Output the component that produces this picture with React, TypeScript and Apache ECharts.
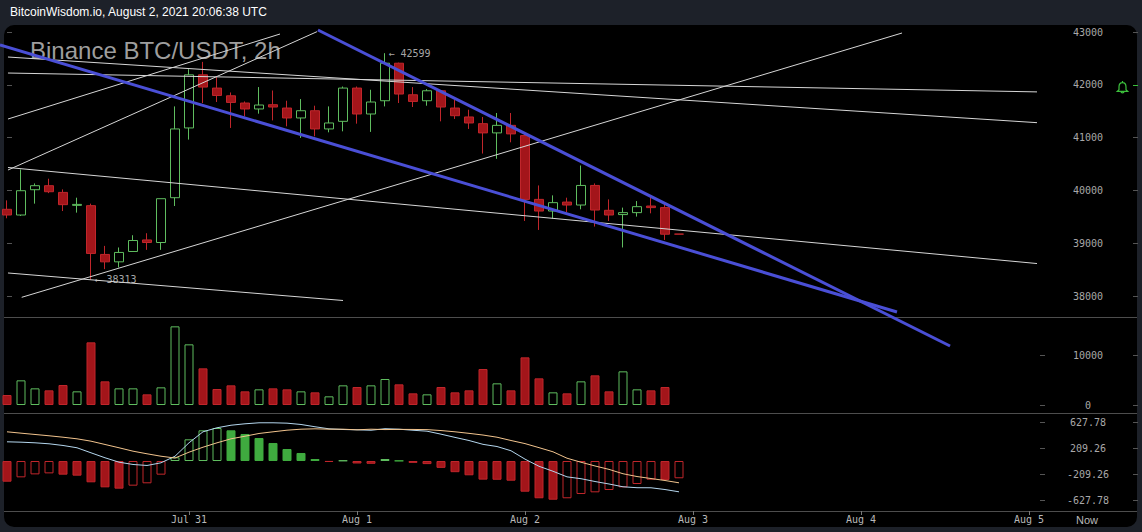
import React, { useEffect, useRef } from 'react';
import * as echarts from 'echarts';

// ---------- data ----------
const open = [39642, 39534, 40013, 40089, 39962, 39717, 39711, 38787, 38647, 38843, 39062, 39013, 39862, 41183, 42189, 41938, 41792, 41655, 41542, 41623, 41560, 41372, 41509, 41164, 41308, 41938, 41447, 41698, 42409, 41811, 41698, 41887, 41560, 41391, 41264, 41089, 41232, 41038, 39830, 39609, 39779, 39723, 40094, 39623, 39542, 39579, 39704, 39674, 39172];
const close = [39534, 39994, 40089, 39975, 39730, 39735, 38806, 38647, 38825, 39051, 39013, 39843, 41164, 42189, 41957, 41798, 41666, 41542, 41617, 41579, 41372, 41509, 41164, 41277, 41938, 41447, 41674, 42409, 41825, 41685, 41887, 41579, 41415, 41277, 41089, 41232, 41070, 39830, 39609, 39768, 39723, 40094, 39628, 39534, 39579, 39692, 39674, 39170, 39172];
const low = [39472, 39515, 39749, 39949, 39609, 39579, 38313, 38509, 38542, 38843, 38874, 38874, 39704, 40962, 41655, 41674, 41183, 41402, 41453, 41326, 41213, 40994, 41025, 41100, 41119, 41264, 41108, 41591, 41655, 41579, 41604, 41308, 41353, 41164, 40698, 40598, 40911, 39421, 39251, 39466, 39591, 39642, 39315, 39421, 38919, 39504, 39566, 39062, 39172];
const high = [39811, 40396, 40132, 40221, 40019, 39862, 39749, 38949, 38919, 39151, 39189, 39843, 41591, 42296, 42434, 42145, 41855, 41685, 41957, 41892, 41698, 41730, 41604, 41591, 41968, 41968, 41906, 42599, 42420, 41957, 41919, 41900, 41717, 41528, 41391, 41466, 41466, 41060, 40094, 39906, 39862, 40472, 40132, 39830, 39674, 39798, 39881, 39768, 39172];
const volume = [2000, 4930, 3330, 2930, 4000, 2730, 12530, 4730, 3330, 3330, 2130, 3530, 15730, 12130, 7330, 3200, 3930, 2730, 3130, 3330, 3130, 2730, 2530, 1730, 3930, 3600, 3930, 5200, 4130, 2330, 2130, 3600, 2530, 2930, 7200, 4330, 2930, 9530, 5330, 2530, 2330, 4730, 5930, 2730, 6730, 3130, 2930, 3600, null];
const macdHist = [-333, -263, -215, -199, -220, -236, -343, -424, -445, -397, -359, -220, 60, 349, 494, 531, 494, 435, 370, 290, 193, 129, 32, -15, 8, -40, -45, 32, 5, -30, -50, -110, -180, -230, -300, -302, -317, -494, -600, -623, -600, -531, -504, -467, -424, -370, -301, -305, -278];
const macdDif = [309, 303, 293, 277, 250, 213, 132, 52, -19, -56, -72, -29, 77, 293, 470, 535, 576, 599, 615, 615, 609, 588, 551, 518, 507, 502, 495, 520, 512, 495, 480, 432, 380, 330, 268, 233, 165, 30, -85, -165, -255, -285, -330, -370, -415, -430, -431, -459, -496];
const macdDea = [470, 448, 427, 406, 383, 357, 319, 266, 213, 158, 116, 77, 48, 142, 222, 293, 357, 399, 443, 470, 496, 512, 518, 512, 512, 502, 512, 506, 509, 508, 505, 490, 470, 445, 418, 383, 330, 280, 215, 148, 45, -20, -80, -135, -205, -250, -282, -314, -351];

const priceTicks = [38000, 39000, 40000, 41000, 42000, 43000];
const volumeTicks = [0, 10000];
const macdTicks = [-627.78, -209.26, 209.26, 627.78];

// trend-line drawings, as [candle index, price] pairs
const blueLines = [
  [[22.21, 43038], [67.36, 37053]],
  [[-0.5, 42754], [63.57, 37697]],
];
const whiteLines = [
  [[0.07, 42526], [73.93, 41277]],
  [[0.07, 42223], [73.93, 41864]],
  [[0.07, 40434], [73.93, 38606]],
  [[0.07, 38436], [24.0, 37915]],
  [[1.05, 37975], [63.93, 42981]],
  [[0.07, 41352], [19.5, 42962]],
  [[0.07, 40386], [22.14, 43006]],
];

// 2h slots from Jul 29 22:00 UTC up to Aug 5
const SLOTS = 74;
const START = Date.UTC(2021, 6, 29, 22);
const MONTHS = ['Jan', 'Feb', 'Mar', 'Apr', 'May', 'Jun', 'Jul', 'Aug', 'Sep', 'Oct', 'Nov', 'Dec'];
const categories = Array.from({ length: SLOTS }, (_, i) => {
  const d = new Date(START + i * 7200000);
  return d.getUTCHours() === 0
    ? `${MONTHS[d.getUTCMonth()]} ${d.getUTCDate()}`
    : `${String(d.getUTCHours()).padStart(2, '0')}:00`;
});

// ---------- styles ----------
const GREEN = '#5fbd5f';
const GREEN_FILL = '#3fab3f';
const RED_FILL = '#a3151a';
const RED_BORDER = '#c0262b';
const MONO = '"DejaVu Sans Mono", monospace';
const SANS = '"Liberation Sans", Arial, sans-serif';

echarts.graphic.registerShape(
  'bell',
  echarts.graphic.extendPath(
    'M5.5 0 L5.5 1.6 M5.5 1.6 C3 1.6 2 3.6 2 6 L2 8.8 L0.3 10.4 L10.7 10.4 L9 8.8 L9 6 C9 3.6 8 1.6 5.5 1.6 Z M4 10.6 C4 12.3 7 12.3 7 10.6',
    {}
  )
);

function buildOption() {
  const candleData = open.map((o, i) => [o, close[i], low[i], high[i]]);
  const volData = volume.map((v, i) => {
    if (v == null) return '-';
    const up = close[i] >= open[i];
    return {
      value: v,
      itemStyle: up
        ? { color: '#000', borderColor: GREEN, borderWidth: 1 }
        : { color: RED_FILL, borderColor: RED_BORDER, borderWidth: 1 },
    };
  });
  const histData = macdHist.map((v, i) => {
    const rising = i > 0 && v > macdHist[i - 1];
    const pos = v >= 0;
    let st;
    if (pos) st = rising ? { color: '#000', borderColor: GREEN, borderWidth: 1 } : { color: GREEN_FILL, borderColor: GREEN_FILL, borderWidth: 1 };
    else st = rising ? { color: '#000', borderColor: RED_BORDER, borderWidth: 1 } : { color: RED_FILL, borderColor: RED_BORDER, borderWidth: 1 };
    return { value: v, itemStyle: st };
  });

  let hiIdx = 0;
  let loIdx = 0;
  high.forEach((h, i) => { if (h > high[hiIdx]) hiIdx = i; });
  low.forEach((l, i) => { if (l < low[loIdx]) loIdx = i; });

  // day labels only, skipping the partial first day at the left edge
  const isDay = (idx: number, val: string) => idx >= 6 && !String(val).includes(':');

  const mainY = (grid: number, min: number, max: number, ticks: number[], fmt?: (v: number) => string) => ({
    type: 'value',
    gridIndex: grid,
    position: 'right',
    offset: 4,
    min,
    max,
    axisLine: { show: false },
    splitLine: { show: false },
    axisTick: { show: true, length: 5, customValues: ticks, lineStyle: { color: '#555' } },
    axisLabel: {
      show: true,
      customValues: ticks,
      align: 'center',
      margin: 48,
      color: '#a8a8a8',
      fontFamily: MONO,
      fontSize: 10,
      formatter: fmt || ((v: number) => String(v)),
    },
  });
  const sideY = (grid: number, min: number, max: number, ticks: number[]) => ({
    type: 'value',
    gridIndex: grid,
    position: 'left',
    offset: -1138,
    min,
    max,
    axisLine: { show: false },
    splitLine: { show: false },
    axisTick: { show: true, length: 5, customValues: ticks, lineStyle: { color: '#555' } },
    axisLabel: { show: false },
  });

  const lineSeries = (pts: number[][], color: string, width: number) => ({
    type: 'line',
    xAxisIndex: 3,
    yAxisIndex: 0,
    data: pts,
    symbol: 'none',
    showSymbol: false,
    clip: false,
    silent: true,
    z: 6,
    lineStyle: { color, width },
  });

  return {
    animation: false,
    backgroundColor: '#1d2129',
    title: [
      {
        text: 'BitcoinWisdom.io, August 2, 2021 20:06:38 UTC',
        left: 10,
        top: 6,
        padding: 0,
        textStyle: { color: '#ffffff', fontSize: 12, fontWeight: 'normal', fontFamily: SANS },
      },
      {
        text: 'Binance BTC/USDT, 2h',
        left: 30,
        top: 38,
        padding: 0,
        z: 1,
        textStyle: { color: '#9e9e9e', fontSize: 24, fontWeight: 'normal', fontFamily: SANS },
      },
    ],
    graphic: [
      { type: 'rect', z: -10, shape: { x: 4, y: 25, width: 1133, height: 502, r: 10 }, style: { fill: '#000' } },
      { type: 'line', z: 0, shape: { x1: 4, y1: 317.5, x2: 1137, y2: 317.5 }, style: { stroke: '#4d4d4d', lineWidth: 1 } },
      { type: 'line', z: 0, shape: { x1: 4, y1: 413.5, x2: 1137, y2: 413.5 }, style: { stroke: '#4d4d4d', lineWidth: 1 } },
      { type: 'line', z: 0, shape: { x1: 4, y1: 511.5, x2: 1137, y2: 511.5 }, style: { stroke: '#4d4d4d', lineWidth: 1 } },
      { type: 'bell', z: 1, x: 1117, y: 81, style: { stroke: '#3cbf3c', fill: 'none', lineWidth: 1.2 } },
      { type: 'line', z: 1, shape: { x1: 1133, y1: 85.5, x2: 1138, y2: 85.5 }, style: { stroke: '#3cbf3c', lineWidth: 1 } },
      {
        type: 'text',
        z: 1,
        x: 1087,
        y: 520,
        style: { text: 'Now', fill: '#b8b8b8', fontSize: 11, fontFamily: SANS, align: 'center', verticalAlign: 'middle' },
      },
    ],
    grid: [
      { left: 0, top: 25, width: 1036, height: 292 },
      { left: 0, top: 318, width: 1036, height: 96 },
      { left: 0, top: 414, width: 1036, height: 97 },
    ],
    xAxis: [
      { type: 'category', gridIndex: 0, data: categories, show: false },
      { type: 'category', gridIndex: 1, data: categories, show: false },
      {
        type: 'category',
        gridIndex: 2,
        data: categories,
        position: 'bottom',
        axisLine: { show: false, onZero: false },
        axisTick: { show: true, alignWithLabel: true, interval: isDay, length: 4, lineStyle: { color: '#777' } },
        axisLabel: { interval: isDay, color: '#b8b8b8', fontFamily: MONO, fontSize: 10, margin: 3 },
        splitLine: { show: false },
      },
      { type: 'value', gridIndex: 0, min: -0.5, max: SLOTS - 0.5, show: false, position: 'top' },
    ],
    yAxis: [
      mainY(0, 37602.3, 43132.6, priceTicks),
      sideY(0, 37602.3, 43132.6, priceTicks),
      mainY(1, -1800, 17400, volumeTicks),
      sideY(1, -1800, 17400, volumeTicks),
      mainY(2, -804.8, 756.6, macdTicks, (v: number) => v.toFixed(2)),
      sideY(2, -804.8, 756.6, macdTicks),
    ],
    series: [
      {
        type: 'candlestick',
        xAxisIndex: 0,
        yAxisIndex: 0,
        data: candleData,
        barWidth: 9,
        z: 3,
        itemStyle: {
          color: '#000',
          color0: RED_FILL,
          borderColor: GREEN,
          borderColor0: RED_BORDER,
          borderColorDoji: RED_BORDER,
          borderWidth: 1,
        },
      },
      {
        type: 'bar',
        xAxisIndex: 1,
        yAxisIndex: 2,
        data: volData,
        barWidth: 9,
        z: 3,
      },
      {
        type: 'bar',
        xAxisIndex: 2,
        yAxisIndex: 4,
        data: histData,
        barWidth: 9,
        z: 3,
      },
      {
        type: 'line',
        xAxisIndex: 2,
        yAxisIndex: 4,
        data: macdDif,
        symbol: 'none',
        z: 4,
        lineStyle: { color: '#b4d6ee', width: 1 },
      },
      {
        type: 'line',
        xAxisIndex: 2,
        yAxisIndex: 4,
        data: macdDea,
        symbol: 'none',
        z: 4,
        lineStyle: { color: '#f2c48e', width: 1 },
      },
      ...whiteLines.map((l) => lineSeries(l, '#d6d6d6', 1)),
      ...blueLines.map((l) => lineSeries(l, '#4a4fd6', 3)),
      {
        type: 'scatter',
        xAxisIndex: 0,
        yAxisIndex: 0,
        symbolSize: 1,
        z: 7,
        itemStyle: { color: 'rgba(0,0,0,0)' },
        data: [
          { value: [hiIdx, high[hiIdx]], label: { formatter: `← ${high[hiIdx]}` } },
          { value: [loIdx, low[loIdx]], label: { formatter: `← ${low[loIdx]}` } },
        ],
        label: { show: true, position: 'right', distance: 3, color: '#d4d4d4', fontFamily: MONO, fontSize: 10 },
      },
    ],
  };
}

export default function App() {
  const ref = useRef<HTMLDivElement>(null);
  useEffect(() => {
    if (!ref.current) return;
    const chart = echarts.init(ref.current, undefined, { renderer: 'svg' });
    chart.setOption(buildOption() as any);
    return () => chart.dispose();
  }, []);
  return <div ref={ref} style={{ position: 'fixed', left: 0, top: 0, width: 1142, height: 532 }} />;
}
